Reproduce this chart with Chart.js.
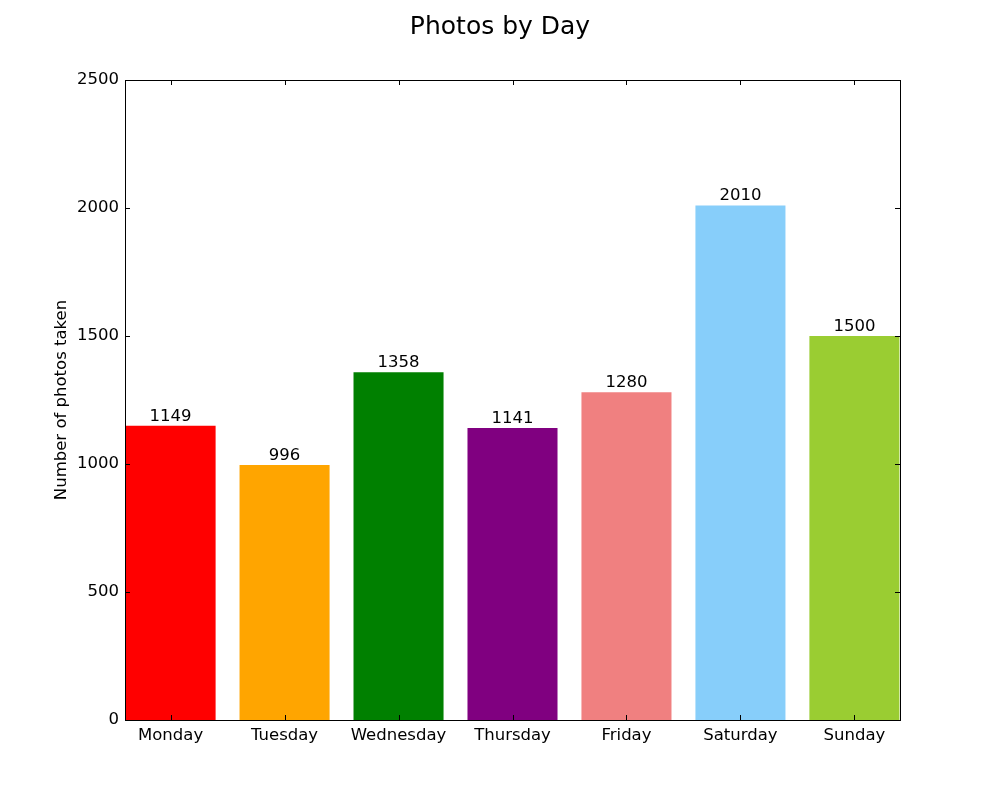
<!DOCTYPE html>
<html lang="en">
<head>
  <meta charset="UTF-8" />
  <title>Photos by Day</title>
  <script src="https://cdn.jsdelivr.net/npm/chart.js@4"></script>
  <style>
    body { margin: 0; background: #fff; }
    canvas { display: block; }
  </style>
</head>
<body>
  <canvas id="dayChart" width="1000" height="800"></canvas>

  <script>
    const days = ["Monday", "Tuesday", "Wednesday", "Thursday", "Friday", "Saturday", "Sunday"];
    const photos = [1149, 996, 1358, 1141, 1280, 2010, 1500];
    const barColors = ["#ff0000", "#ffa500", "#008000", "#800080", "#f08080", "#87cefa", "#9acd32"];
    const yTicks = [0, 500, 1000, 1500, 2000, 2500];
    const chartTitle = "Photos by Day";
    const yTitle = "Number of photos taken";

    const FONT = "'DejaVu Sans', sans-serif";

    // box around the plot, inward ticks on all four sides, value labels, title centred on the figure
    const framePlugin = {
      id: "frame",
      afterDraw(chart) {
        const ctx = chart.ctx;
        const a = chart.chartArea;
        const xs = chart.scales.x, ys = chart.scales.y;
        ctx.save();
        ctx.strokeStyle = "#000";
        ctx.lineWidth = 1;
        ctx.strokeRect(Math.round(a.left) + 0.5, Math.round(a.top) + 0.5,
                       Math.round(a.right - a.left), Math.round(a.bottom - a.top));
        ctx.beginPath();
        days.forEach((d, i) => {
          const x = Math.round(xs.getPixelForValue(i + 0.4)) + 0.5;
          ctx.moveTo(x, a.bottom); ctx.lineTo(x, a.bottom - 5);
          ctx.moveTo(x, a.top); ctx.lineTo(x, a.top + 5);
        });
        yTicks.forEach(v => {
          const y = Math.round(ys.getPixelForValue(v)) + 0.5;
          ctx.moveTo(a.left, y); ctx.lineTo(a.left + 5, y);
          ctx.moveTo(a.right, y); ctx.lineTo(a.right - 5, y);
        });
        ctx.stroke();

        ctx.fillStyle = "#000";
        ctx.font = "16.5px " + FONT;
        ctx.textAlign = "center";
        ctx.textBaseline = "bottom";
        chart.getDatasetMeta(0).data.forEach((bar, i) => {
          ctx.fillText(String(photos[i]), bar.x, bar.y - 1);
        });

        ctx.font = "25px " + FONT;
        ctx.textBaseline = "middle";
        ctx.fillText(chartTitle, chart.width / 2, 27);
        ctx.restore();
      }
    };

    new Chart(document.getElementById("dayChart"), {
      type: "bar",
      data: {
        datasets: [{
          data: photos.map((v, i) => ({ x: i + 0.4, y: v })),
          backgroundColor: barColors,
          borderWidth: 0,
          barPercentage: 0.79,
          categoryPercentage: 1
        }]
      },
      options: {
        responsive: false,
        animation: false,
        layout: { padding: { left: 0, right: 100, top: 80, bottom: 0 } },
        plugins: {
          legend: { display: false },
          tooltip: { enabled: false },
          title: { display: false }
        },
        scales: {
          x: {
            type: "linear",
            min: 0,
            max: 6.8,
            offset: false,
            grid: { display: false, drawTicks: false, offset: false },
            border: { display: false },
            afterBuildTicks: s => { s.ticks = days.map((d, i) => ({ value: i + 0.4 })); },
            afterFit: s => { s.height = 80; },
            ticks: {
              color: "#000",
              font: { family: FONT, size: 16.5 },
              padding: 6,
              maxRotation: 0,
              autoSkip: false,
              callback: v => days[Math.round(v - 0.4)]
            }
          },
          y: {
            min: 0,
            max: 2500,
            grid: { display: false, drawTicks: false },
            border: { display: false },
            afterBuildTicks: s => { s.ticks = yTicks.map(v => ({ value: v })); },
            afterFit: s => { s.width = 125; },
            ticks: {
              color: "#000",
              font: { family: FONT, size: 16.5 },
              padding: 6,
              callback: v => String(v)
            },
            title: {
              display: true,
              text: yTitle,
              color: "#000",
              font: { family: FONT, size: 16.5 },
              padding: { top: 52, bottom: 0 }
            }
          }
        }
      },
      plugins: [framePlugin]
    });
  </script>
</body>
</html>
